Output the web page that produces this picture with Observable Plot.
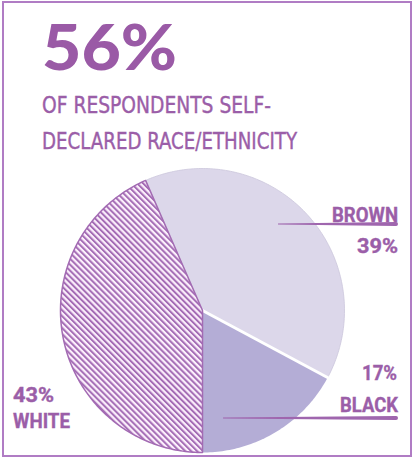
<!DOCTYPE html>
<html>
<head>
<meta charset="utf-8">
<script src="https://cdn.jsdelivr.net/npm/d3@7"></script>
<script src="https://cdn.jsdelivr.net/npm/@observablehq/plot@0.6"></script>
<style>
  html, body { margin: 0; padding: 0; background: #fff; }
  #wrap { position: relative; width: 417px; height: 458px; overflow: hidden; background: #fff; }
  #wrap > svg { position: absolute; left: 0; top: 0; }
  #overlay { pointer-events: none; }
</style>
</head>
<body>
<div id="wrap"></div>
<script>
// ---- data ----
const categories = ["White", "Brown", "Black"];
const shares = [43, 39, 17];
const headline = "56%";
const subtitleLines = ["OF RESPONDENTS SELF-", "DECLARED RACE/ETHNICITY"];

// ---- colours ----
const purple = "#9b5ea8";
const sliceFill = { White: "url(#hatch)", Brown: "#dcd7ea", Black: "#b4add6" };

// pie geometry from the shares (start at 6 o'clock, clockwise)
const arcs = d3.pie().sort(null).startAngle(Math.PI).endAngle(3 * Math.PI)(shares);
const verts = arcs.flatMap((a, i) => {
  const slice = categories[i];
  const pts = [{ slice, x: 0, y: 0 }];
  const n = Math.ceil((a.endAngle - a.startAngle) / (Math.PI / 180));
  for (let k = 0; k <= n; k++) {
    const t = a.startAngle + (a.endAngle - a.startAngle) * k / n;
    pts.push({ slice, x: Math.sin(t), y: Math.cos(t) });
  }
  pts.push({ slice, x: 0, y: 0 });
  return pts;
});
const of = (name) => verts.filter(d => d.slice === name);

const defs = () => {
  const g = d3.create("svg:defs");
  const p = g.append("pattern").attr("id", "hatch").attr("patternUnits", "userSpaceOnUse")
    .attr("width", 4.2).attr("height", 4.2).attr("patternTransform", "rotate(-45)");
  p.append("rect").attr("width", 4.2).attr("height", 4.2).attr("fill", "#fcf0fc");
  p.append("rect").attr("width", 2).attr("height", 4.2).attr("fill", "#a46cb5");
  return g.node();
};

const chart = Plot.plot({
  width: 417,
  height: 458,
  marginLeft: 60,
  marginRight: 73,
  marginTop: 168,
  marginBottom: 6,
  x: { domain: [-1, 1], axis: null },
  y: { domain: [-1, 1], axis: null },
  style: { background: "transparent" },
  marks: [
    defs,
    Plot.line(of("Black"), { x: "x", y: "y", fill: sliceFill.Black, stroke: "none" }),
    Plot.line(of("Brown"), { x: "x", y: "y", fill: sliceFill.Brown, stroke: "#ccc7dc", strokeWidth: 0.8 }),
    Plot.link([arcs[2]], {
      x1: () => 0, y1: () => 0,
      x2: a => Math.sin(a.startAngle) * 1.01, y2: a => Math.cos(a.startAngle) * 1.01,
      stroke: "#fff", strokeWidth: 3
    }),
    Plot.line(of("White"), { x: "x", y: "y", fill: sliceFill.White, stroke: "#a36bb3", strokeWidth: 1.5 })
  ]
});
document.getElementById("wrap").appendChild(chart);

// ---- overlay: frame, headline, subtitle, labels ----
const ov = d3.select("#wrap").append("svg").attr("id", "overlay")
  .attr("width", 417).attr("height", 458);

ov.append("rect").attr("x", 3).attr("y", 2).attr("width", 408).attr("height", 454)
  .attr("fill", "none").attr("stroke", "#b07cc4").attr("stroke-width", 2);

ov.append("text").attr("x", 42).attr("y", 70).text(headline)
  .attr("font-family", "Lato, 'Open Sans', sans-serif").attr("font-weight", 900)
  .attr("font-size", 62).attr("fill", "#9a5aa6")
  .attr("textLength", 135).attr("lengthAdjust", "spacingAndGlyphs");

const subY = [113, 149], subW = [229, 255];
subtitleLines.forEach((s, i) => {
  ov.append("text").attr("x", 42).attr("y", subY[i]).text(s)
    .attr("font-family", "'Liberation Sans Narrow', 'DejaVu Sans Condensed', sans-serif")
    .attr("font-size", 23).attr("fill", purple)
    .attr("stroke", purple).attr("stroke-width", 0.4)
    .attr("textLength", subW[i]).attr("lengthAdjust", "spacingAndGlyphs");
});

// label text
const label = (txt, x, y, anchor, len) => ov.append("text").attr("x", x).attr("y", y).text(txt)
  .attr("text-anchor", anchor).attr("font-family", "Roboto, 'Open Sans', sans-serif").attr("font-weight", 700)
  .attr("font-size", 19.5).attr("fill", purple)
  .attr("stroke", purple).attr("stroke-width", 0.35)
  .attr("textLength", len).attr("lengthAdjust", "spacingAndGlyphs");

const pct = v => `${v}%`;
label(categories[1].toUpperCase(), 398, 222, "end", 66);
label(pct(shares[1]), 398, 253, "end", 41);
label(pct(shares[2]), 397, 380, "end", 35);
label(categories[2].toUpperCase(), 398, 412, "end", 58);
label(pct(shares[0]), 13, 402, "start", 41);
label(categories[0].toUpperCase(), 13, 428, "start", 57);

// tapered brush underlines
const brush = (x1, x2, y) => ov.append("path")
  .attr("d", `M${x1},${y - 0.6} L${x2 - 1.9},${y - 1.9} A1.9,1.9 0 0 1 ${x2 - 1.9},${y + 1.9} L${x1},${y + 0.6} Z`)
  .attr("fill", "#9f66ae");
brush(278, 398, 224);
brush(223, 398, 418);
</script>
</body>
</html>
